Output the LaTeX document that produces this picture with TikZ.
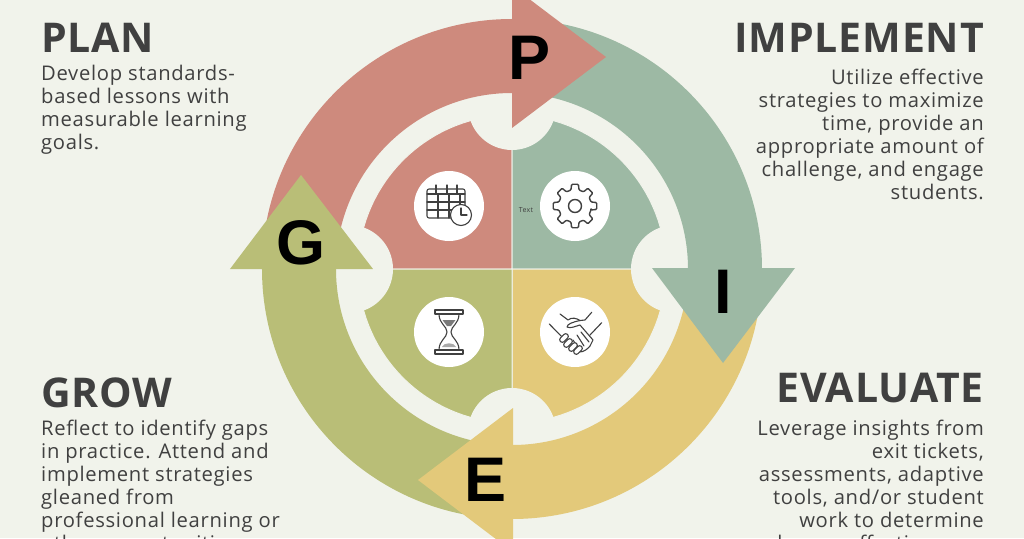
\documentclass[tikz,border=0pt]{standalone}
\usepackage{fontspec}
\setmainfont{Open Sans}[LetterSpace=3.5]
\newfontfamily\headfont{Open Sans}[LetterSpace=2,Kerning=Off]
\newfontfamily\lettfont{Liberation Sans}
\usetikzlibrary{positioning,shapes.geometric}
\definecolor{bgcol}{HTML}{F1F3EB}
\definecolor{pinkcol}{HTML}{CE8A7D}
\definecolor{sagecol}{HTML}{9DB9A4}
\definecolor{yellcol}{HTML}{E3C97A}
\definecolor{olivcol}{HTML}{B9BE77}
\definecolor{inkcol}{HTML}{404040}
\begin{document}
\begin{tikzpicture}[x=1pt,y=1pt,
    headd/.style={inner sep=0pt,text=inkcol,font={\fontsize{41}{41}\headfont\bfseries}},
    bodyl/.style={inner sep=0pt,text=inkcol,align=left,font={\fontsize{20.2}{23}\selectfont}},
    bodyr/.style={inner sep=0pt,text=inkcol,align=right,font={\fontsize{20.2}{23}\selectfont}},
    lett/.style={inner sep=0pt,text=black,font={\fontsize{63}{63}\lettfont\bfseries}},
    iconc/.style={circle,fill=white,minimum size=70pt,inner sep=0pt},
    icon/.style={draw=inkcol,line width=1.1pt,line join=round,line cap=round}]
%
   \clip (-512,-269) rectangle (512,269);
   \fill[bgcol] (-512,-269) rectangle (512,269);
% quarter pieces
   \fill[pinkcol,draw=bgcol,line width=1pt] (0,0) -- (180:154) arc (180:90:154) -- cycle;
   \fill[sagecol,draw=bgcol,line width=1pt] (0,0) -- (90:154) arc (90:0:154) -- cycle;
   \fill[yellcol,draw=bgcol,line width=1pt] (0,0) -- (0:154) arc (0:-90:154) -- cycle;
   \fill[olivcol,draw=bgcol,line width=1pt] (0,0) -- (-90:154) arc (-90:-180:154) -- cycle;
   \foreach \a in {0,90,180,270}
      \fill[bgcol] (\a:163) circle (44);
% ring
   \fill[pinkcol] (180:250) arc (180:90:250) -- (90:176) arc (90:180:176) -- cycle;
   \fill[sagecol] (90:250) arc (90:0:250) -- (0:176) arc (0:90:176) -- cycle;
   \fill[yellcol] (0:250) arc (0:-90:250) -- (-90:176) arc (-90:0:176) -- cycle;
   \fill[olivcol] (-90:250) arc (-90:-180:250) -- (180:176) arc (180:270:176) -- cycle;
% arrow heads
   \fill[pinkcol] (0,283) -- (94,212) -- (0,141) -- cycle;
   \fill[sagecol] (140,1) -- (283,1) -- (211,-94) -- cycle;
   \fill[yellcol] (1,-139) -- (-94,-211) -- (1,-283) -- cycle;
   \fill[olivcol] (-282,0) -- (-139,0) -- (-211,94) -- cycle;
%
   \node[lett] (LP) at (18,211) {P};
   \node[lett] (LI) at (211,-23) {I};
   \node[lett] (LE) at (-26,-211) {E};
   \node[lett] (LG) at (-211,26) {G};
%
   \node[iconc] (C1) at (-63,63) {};
   \node[iconc] (C2) at (63,63) {};
   \node[iconc] (C3) at (63,-63) {};
   \node[iconc] (C4) at (-63,-63) {};
   \node[text=inkcol,inner sep=0pt,font={\fontsize{7}{7}\selectfont}] (T1) at (14,59) {Text};
% calendar
   \begin{scope}[shift={(C1.center)}]
      \draw[icon,rounded corners=2pt] (-22,17) rectangle (16,-12);
      \draw[icon] (-22,12) -- (16,12) (-22,4) -- (16,4) (-22,-4) -- (16,-4);
      \draw[icon] (-11,12) -- (-11,-12) (0,12) -- (0,-12) (11,12) -- (11,-12);
      \draw[icon] (-13,21) -- (-13,13) (-2,21) -- (-2,13) (8,21) -- (8,13);
      \draw[icon,fill=white] (12,-9) circle (10.5);
      \draw[icon] (12,-2) -- (12,-9) -- (18,-9);
   \end{scope}
% gear
   \begin{scope}[shift={(C2.center)}]
      \draw[icon,line width=1.4pt,rounded corners=1pt] (-14:16.5)
         \foreach \a in {0,45,...,315} { -- (\a-14:16.5) -- (\a-9:22) -- (\a+9:22) -- (\a+14:16.5) } -- cycle;
      \draw[icon,line width=1.4pt] (0,0) circle (6.5);
   \end{scope}
% handshake
   \begin{scope}[shift={(C3.center)}]
      \draw[icon] (-25.7,8) -- (-11.7,-6.3) (26.7,9.3) -- (15,-3);
      \draw[icon] (-15,18) -- (-7,12) .. controls (-3,15) and (1,14) .. (5,11.5) -- (10,12) -- (16.7,19.7);
      \draw[icon] (5,11.5) .. controls (-2,10) and (-8,8) .. (-8,5) .. controls (-5,3) and (1,6) .. (5,7) -- (18,-8) -- (15,-14);
      \draw[icon] (15,-14) .. controls (10,-20) and (5,-21) .. (2,-19);
      \draw[icon] (6,0) -- (14,-10) (2,-3) -- (9,-14) (-2,-8) -- (4,-17);
      \foreach \px/\py in {-11/-6,-7/-11,-2/-15,3/-18}
         \draw[icon,rounded corners=2.5pt,fill=white,rotate around={45:(\px,\py)}] (\px-5,\py-2.6) rectangle (\px+5,\py+2.6);
   \end{scope}
% hourglass
   \begin{scope}[shift={(C4.center)}]
      \draw[icon] (-14,18) rectangle (14,22) (-14,-18) rectangle (14,-22);
      \draw[icon] (-10,18) .. controls (-10,8) and (-2,6) .. (-2,0) .. controls (-2,-6) and (-10,-8) .. (-10,-18);
      \draw[icon] (10,18) .. controls (10,8) and (2,6) .. (2,0) .. controls (2,-6) and (10,-8) .. (10,-18);
      \fill[inkcol!70] (-6.5,12) -- (6.5,12) -- (2,6) -- (-2,6) -- cycle;
      \fill[inkcol!45] (-7,-15) .. controls (-5,-10) and (5,-10) .. (7,-15) -- cycle;
   \end{scope}
%
   \node[headd,anchor=base west] (HP) at (-471,216) {PLAN};
   \node[bodyl] (BP) [below right=12pt and 0pt of HP.south west]
      {Develop standards-\\based lessons with\\measurable learning\\goals.};
   \node[headd,anchor=base east] (HI) at (472,216) {IMPLEMENT};
   \node[bodyr] (BI) [below left=16pt and 0pt of HI.south east]
      {Utilize effective\\strategies to maximize\\time, provide an\\appropriate amount of\\challenge, and engage\\students.};
   \node[headd,anchor=base west] (HG) at (-471,-138) {GROW};
   \node[bodyl] (BG) [below right=12pt and 0pt of HG.south west]
      {Reflect to identify gaps\\in practice. Attend and\\implement strategies\\gleaned from\\professional learning or\\other opportunities.};
   \node[headd,anchor=base east] (HE) at (472,-133) {EVALUATE};
   \node[bodyr] (BE) [below left=17pt and 0pt of HE.south east]
      {Leverage insights from\\exit tickets,\\assessments, adaptive\\tools, and/or student\\work to determine\\lesson effectiveness.};
\end{tikzpicture}
\end{document}
